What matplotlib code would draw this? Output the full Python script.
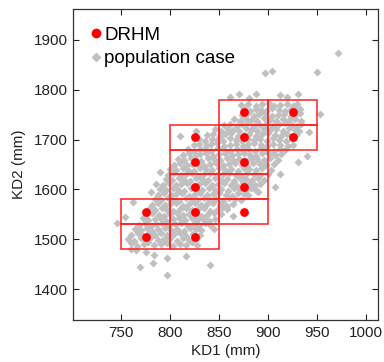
import matplotlib
matplotlib.use("Agg")
import matplotlib.pyplot as plt
from matplotlib.patches import Rectangle
from matplotlib.lines import Line2D

plt.rcParams['font.family'] = ['Liberation Sans', 'DejaVu Sans']

# DRHM design points (KD1, KD2) in mm, each with a 50 x 50 mm cell around it
drhm_x = [775, 775, 825, 825, 825, 825, 825, 875, 875, 875, 875, 875, 925, 925]
drhm_y = [1505, 1555, 1505, 1555, 1605, 1655, 1705, 1555, 1605, 1655, 1705, 1755, 1705, 1755]
cell = 50

# population cases (dense band)
pop_x_rows = [
    [760, 766, 773, 778, 784, 791, 797, 803, 810, 816, 822, 828],
    [757, 763, 770, 775, 781, 788, 794, 800, 807, 813, 819, 826],
    [760, 767, 772, 778, 785, 791, 797, 804, 810, 816, 823, 831],
    [764, 770, 777, 782, 788, 795, 801, 807, 814, 820, 826, 832],
    [768, 774, 781, 786, 792, 799, 805, 811, 818, 824, 830, 836, 841],
    [772, 778, 785, 790, 796, 803, 809, 815, 822, 828, 834, 840, 846],
    [776, 782, 789, 794, 800, 807, 813, 819, 826, 832, 838, 845, 852],
    [779, 785, 792, 797, 803, 810, 816, 822, 829, 835, 841, 848, 853, 858],
    [782, 788, 795, 800, 806, 813, 819, 825, 832, 838, 844, 851, 857, 864],
    [785, 791, 798, 803, 809, 816, 822, 828, 835, 841, 847, 854, 860, 866, 872],
    [788, 794, 801, 806, 812, 819, 825, 831, 838, 844, 850, 857, 863, 869, 875, 880],
    [790, 796, 803, 808, 814, 821, 827, 833, 840, 846, 852, 859, 865, 871, 878, 883, 888],
    [793, 799, 806, 811, 817, 824, 830, 836, 843, 849, 855, 862, 868, 874, 881, 887, 892],
    [796, 802, 809, 814, 820, 827, 833, 839, 846, 852, 858, 865, 871, 877, 884, 890, 896],
    [798, 804, 811, 816, 822, 829, 835, 841, 848, 854, 860, 867, 873, 879, 886, 892, 900],
    [800, 806, 813, 818, 824, 831, 837, 843, 850, 856, 862, 869, 875, 881, 888, 894, 903],
    [804, 810, 817, 822, 828, 835, 841, 847, 854, 860, 866, 873, 879, 885, 892, 898, 906],
    [808, 814, 821, 826, 832, 839, 845, 851, 858, 864, 870, 877, 883, 889, 896, 902, 910],
    [813, 819, 826, 831, 837, 844, 850, 856, 863, 869, 875, 882, 888, 894, 901, 907, 913],
    [818, 824, 831, 836, 842, 849, 855, 861, 868, 874, 880, 887, 893, 899, 906, 912, 917],
    [824, 830, 837, 842, 848, 855, 861, 867, 874, 880, 886, 893, 899, 905, 912, 920],
    [830, 836, 843, 848, 854, 861, 867, 873, 880, 886, 892, 899, 905, 911, 918, 924],
    [838, 844, 851, 856, 862, 869, 875, 881, 888, 894, 900, 907, 913, 919, 928],
    [846, 852, 859, 864, 870, 877, 883, 889, 896, 902, 908, 915, 921, 927, 932],
    [855, 861, 868, 873, 879, 886, 892, 898, 905, 911, 917, 924, 930, 934],
    [865, 871, 878, 883, 889, 896, 902, 908, 915, 921, 927, 934],
    [873, 879, 886, 891, 897, 904, 910, 916, 923, 929, 933],
    [876, 882, 888, 893, 898, 904, 911, 917, 923, 929, 933],
    [872, 880, 888, 894, 901, 906, 912, 919, 925, 930],
]
pop_y_rows = [
    [1492, 1487, 1491, 1494, 1488, 1490, 1493, 1486, 1491, 1489, 1494, 1488],
    [1501, 1497, 1503, 1499, 1504, 1498, 1500, 1502, 1496, 1503, 1499, 1501],
    [1508, 1512, 1507, 1511, 1509, 1513, 1508, 1510, 1512, 1507, 1511, 1509],
    [1521, 1518, 1522, 1517, 1520, 1523, 1519, 1521, 1517, 1522, 1520, 1518],
    [1529, 1532, 1527, 1531, 1533, 1528, 1530, 1532, 1527, 1531, 1529, 1533, 1528],
    [1542, 1538, 1541, 1543, 1537, 1540, 1542, 1539, 1543, 1538, 1541, 1537, 1540],
    [1548, 1552, 1549, 1547, 1551, 1553, 1548, 1550, 1552, 1547, 1549, 1553, 1550],
    [1561, 1558, 1562, 1559, 1557, 1561, 1563, 1558, 1560, 1562, 1557, 1559, 1563, 1560],
    [1569, 1572, 1568, 1571, 1573, 1567, 1570, 1572, 1568, 1571, 1573, 1569, 1567, 1570],
    [1581, 1578, 1582, 1579, 1577, 1583, 1580, 1578, 1582, 1579, 1581, 1577, 1583, 1580, 1578],
    [1589, 1592, 1588, 1591, 1593, 1587, 1590, 1592, 1588, 1591, 1593, 1589, 1587, 1592, 1590, 1588],
    [1601, 1598, 1602, 1599, 1597, 1603, 1600, 1598, 1602, 1599, 1601, 1597, 1603, 1600, 1598, 1602, 1599],
    [1609, 1612, 1608, 1611, 1613, 1607, 1610, 1612, 1608, 1611, 1613, 1609, 1607, 1612, 1610, 1608, 1611],
    [1621, 1618, 1622, 1619, 1617, 1623, 1620, 1618, 1622, 1619, 1621, 1617, 1623, 1620, 1618, 1622, 1619],
    [1629, 1632, 1628, 1631, 1633, 1627, 1630, 1632, 1628, 1631, 1633, 1629, 1627, 1632, 1630, 1628, 1631],
    [1641, 1638, 1642, 1639, 1637, 1643, 1640, 1638, 1642, 1639, 1641, 1637, 1643, 1640, 1638, 1642, 1639],
    [1649, 1652, 1648, 1651, 1653, 1647, 1650, 1652, 1648, 1651, 1653, 1649, 1647, 1652, 1650, 1648, 1651],
    [1661, 1658, 1662, 1659, 1657, 1663, 1660, 1658, 1662, 1659, 1661, 1657, 1663, 1660, 1658, 1662, 1659],
    [1669, 1672, 1668, 1671, 1673, 1667, 1670, 1672, 1668, 1671, 1673, 1669, 1667, 1672, 1670, 1668, 1671],
    [1681, 1678, 1682, 1679, 1677, 1683, 1680, 1678, 1682, 1679, 1681, 1677, 1683, 1680, 1678, 1682, 1679],
    [1689, 1692, 1688, 1691, 1693, 1687, 1690, 1692, 1688, 1691, 1693, 1689, 1687, 1692, 1690, 1688],
    [1701, 1698, 1702, 1699, 1697, 1703, 1700, 1698, 1702, 1699, 1701, 1697, 1703, 1700, 1698, 1702],
    [1709, 1712, 1708, 1711, 1713, 1707, 1710, 1712, 1708, 1711, 1713, 1709, 1707, 1712, 1710],
    [1721, 1718, 1722, 1719, 1717, 1723, 1720, 1718, 1722, 1719, 1721, 1717, 1723, 1720, 1718],
    [1729, 1732, 1728, 1731, 1733, 1727, 1730, 1732, 1728, 1731, 1733, 1729, 1727, 1732],
    [1741, 1738, 1742, 1739, 1737, 1743, 1740, 1738, 1742, 1739, 1741, 1737],
    [1749, 1752, 1748, 1751, 1753, 1747, 1750, 1752, 1748, 1751, 1753],
    [1761, 1758, 1762, 1759, 1757, 1763, 1760, 1758, 1762, 1759, 1761],
    [1769, 1772, 1768, 1771, 1773, 1767, 1770, 1772, 1768, 1771],
]

# scattered cases outside the band
out_x = [769, 797, 783, 797, 816, 841, 784, 746, 754, 762, 786, 781, 790, 864, 858,
         907, 890, 931, 940, 953, 942, 810, 827, 861, 870, 888, 912, 919, 931, 897,
         904, 950, 971, 765, 775, 845, 912, 925, 760, 881]
out_y = [1445, 1428, 1452, 1462, 1466, 1448, 1468, 1532, 1544, 1574, 1610, 1594, 1634, 1547, 1567,
         1604, 1594, 1654, 1667, 1751, 1715, 1707, 1717, 1785, 1791, 1791, 1789, 1786, 1791, 1833,
         1837, 1836, 1873, 1478, 1474, 1520, 1630, 1690, 1480, 1783]

x_ticks = [750, 800, 850, 900, 950, 1000]
y_ticks = [1400, 1500, 1600, 1700, 1800, 1900]

pop_x, pop_y = [], []
for xs, ys in zip(pop_x_rows, pop_y_rows):
    for x, y in zip(xs, ys):
        pop_x.append(x)
        pop_y.append(y)
pop_x += out_x
pop_y += out_y

gray = '#c0c0c0'
fig = plt.figure(figsize=(3.84, 3.62), dpi=100)
ax = fig.add_axes([0.19, 0.116, 0.794, 0.858])

ax.plot(pop_x, pop_y, linestyle='none', marker='D', ms=4.2, color=gray, mec='none')

for x, y in zip(drhm_x, drhm_y):
    ax.add_patch(Rectangle((x - cell / 2, y - cell / 2), cell, cell, fill=False,
                           edgecolor='#ff2020', lw=1.1, zorder=3))

ax.plot(drhm_x, drhm_y, linestyle='none', marker='o', ms=5.3, color='red', zorder=4)

ax.set_xlim(701, 1012)
ax.set_ylim(1338, 1961)
ax.set_xticks(x_ticks)
ax.set_yticks(y_ticks)
ax.tick_params(direction='in', top=True, right=True, length=4, width=0.8,
               labelsize=11, colors='#222222', pad=4)
for s in ax.spines.values():
    s.set_color('#333333')
    s.set_linewidth(0.9)
ax.set_xlabel('KD1 (mm)', fontsize=11, color='#222222', labelpad=3)
ax.set_ylabel('KD2 (mm)', fontsize=11, color='#222222', labelpad=5)

handles = [Line2D([], [], linestyle='none', marker='o', ms=6, color='red'),
           Line2D([], [], linestyle='none', marker='D', ms=4, color=gray)]
ax.legend(handles, ['DRHM', 'population case'], loc='upper left', frameon=False,
          fontsize=13.5, handlelength=0.6, handletextpad=0.15, labelspacing=0.35,
          borderpad=0.3, borderaxespad=0.62)

fig.savefig('out.png', dpi=100)
